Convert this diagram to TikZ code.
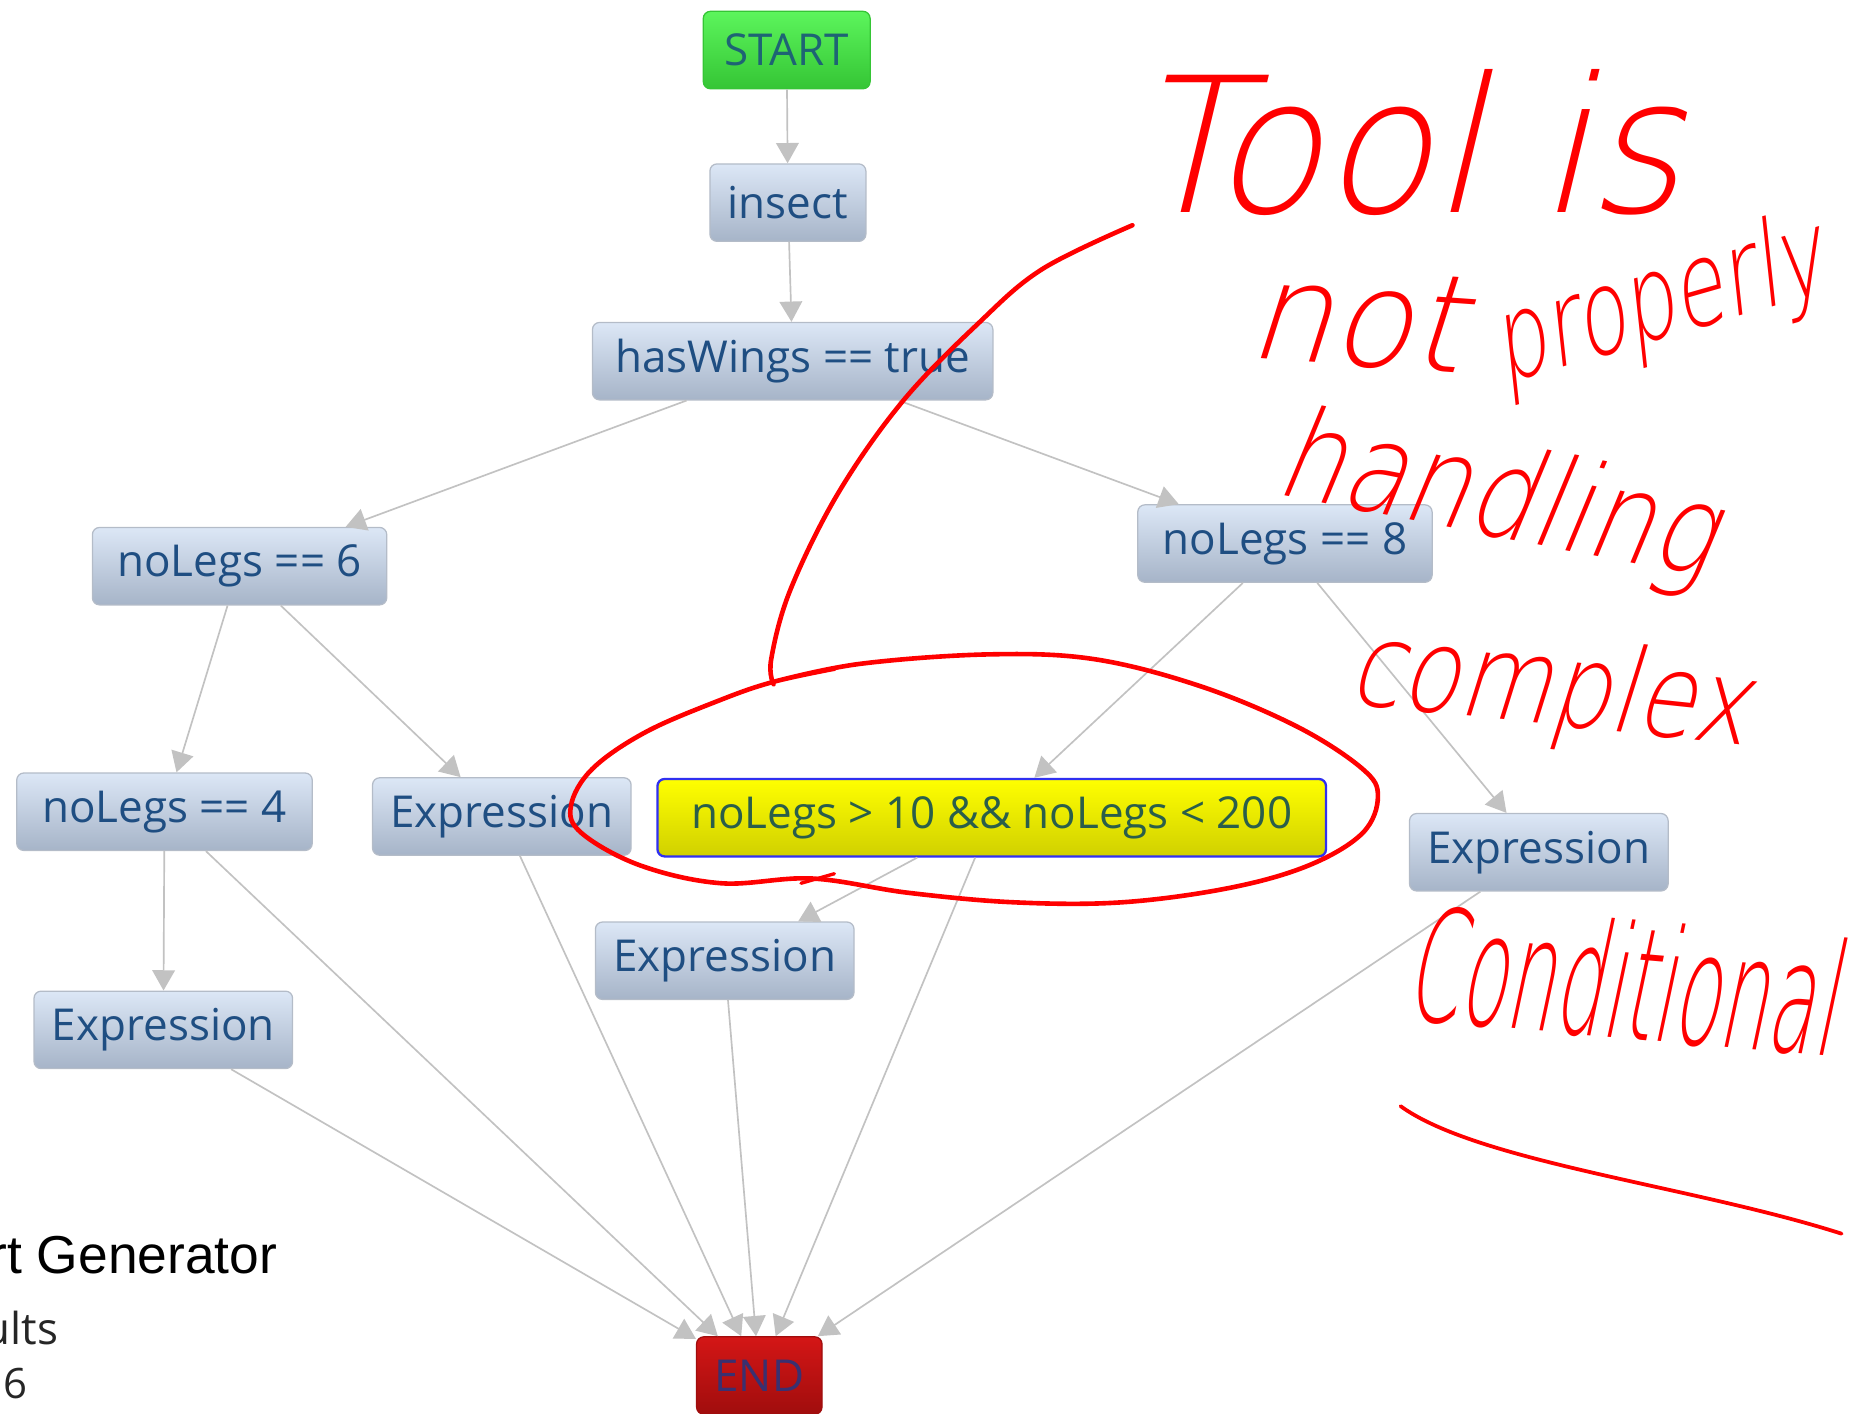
\documentclass[tikz,border=0pt]{standalone}
\usepackage{fontspec}
\setmainfont{Open Sans}
\newfontfamily\captionfont{Liberation Sans}
\newfontfamily\scrawlfont{DejaVu Sans ExtraLight}[FakeSlant=0.25]
\usetikzlibrary{arrows.meta}

\definecolor{edgegray}{HTML}{C2C2C2}
\definecolor{boxtop}{HTML}{DCE7F6}
\definecolor{boxbottom}{HTML}{A6B4C8}
\definecolor{boxline}{HTML}{B4BCC8}
\definecolor{boxtext}{HTML}{1F4E82}
\definecolor{starttop}{HTML}{5CF55C}
\definecolor{startbottom}{HTML}{35C535}
\definecolor{starttext}{HTML}{1E6474}
\definecolor{endtop}{HTML}{D41616}
\definecolor{endbottom}{HTML}{A00D0D}
\definecolor{endtext}{HTML}{3A3070}
\definecolor{hitop}{HTML}{FFFF00}
\definecolor{hibottom}{HTML}{D0D000}
\definecolor{hiline}{HTML}{3030F0}
\definecolor{hitext}{HTML}{2A5E4A}
\definecolor{pen}{HTML}{FF0000}

% handwritten note: width, height, text
\newcommand{\scrawl}[3]{\resizebox{#1}{#2}{\scrawlfont #3}}

\tikzset{
  block/.style={rectangle, rounded corners=0.12cm, draw=boxline, line width=0.6pt,
    top color=boxtop, bottom color=boxbottom, text=boxtext,
    font=\fontsize{21}{25}\selectfont, inner xsep=0.3cm, inner ysep=0pt,
    minimum height=1.3cm},
  startblock/.style={block, draw=startbottom, top color=starttop,
    bottom color=startbottom, text=starttext},
  endblock/.style={block, draw=endbottom, top color=endtop,
    bottom color=endbottom, text=endtext},
  hiblock/.style={block, draw=hiline, line width=1.1pt, top color=hitop,
    bottom color=hibottom, text=hitext},
  flow/.style={draw=edgegray, line width=0.8pt,
    -{Triangle[width=0.38cm,length=0.34cm]}},
  note/.style={text=pen, inner sep=0pt, anchor=base west},
  penline/.style={draw=pen, line width=2.2pt, line cap=round, line join=round},
  sidetext/.style={inner sep=0pt, anchor=base east}
}

\begin{document}
\begin{tikzpicture}[x=0.02cm, y=-0.02cm]
  \useasboundingbox (0,0) rectangle (1568,1186);

  % flow chart
  \node[startblock, minimum width=2.8cm] (start) at (660,42) {START};
  \node[block, minimum width=2.56cm] (insect) at (661,170) {insect};
  \node[block, minimum width=6.72cm] (wings) at (665,303) {hasWings == true};
  \node[block, minimum width=4.94cm] (legs6) at (201,475) {noLegs == 6};
  \node[block, minimum width=4.94cm] (legs8) at (1078,456) {noLegs == 8};
  \node[block, minimum width=4.96cm] (legs4) at (138,681) {noLegs == 4};
  \node[block, minimum width=4.26cm] (exprA) at (421,685) {Expression};
  \node[hiblock, minimum width=11.22cm] (range) at (832,686) {noLegs > 10 \&\& noLegs < 200};
  \node[block, minimum width=4.26cm] (exprB) at (1291,715) {Expression};
  \node[block, minimum width=4.26cm] (exprC) at (608,806) {Expression};
  \node[block, minimum width=4.26cm] (exprD) at (137,864) {Expression};
  \node[endblock, minimum width=2.1cm] (end) at (637,1154) {END};

  \begin{scope}[flow]
    \draw (start) to (insect);
    \draw (insect) to (wings);
    \draw (wings) to (legs6);
    \draw (wings) to (legs8);
    \draw (legs6) to (legs4);
    \draw (legs6) to (exprA);
    \draw (legs8) to (range);
    \draw (legs8) to (exprB);
    \draw (legs4) to (exprD);
    \draw (legs4) to (end);
    \draw (exprA) to (end);
    \draw (range) to (exprC);
    \draw (range) to (end);
    \draw (exprC) to (end);
    \draw (exprD) to (end);
    \draw (exprB) to (end);
  \end{scope}

  % window text cut off at the left
  \node[sidetext, font=\captionfont\fontsize{25.5}{30}\selectfont] (gen) at (233,1068) {rt Generator};
  \node[sidetext, text=black!85, font=\fontsize{21}{25}\selectfont] (res) at (49,1128) {ults};
  \node[sidetext, text=black!85, font=\fontsize{20}{24}\selectfont] (cnt) at (23,1173) {6};

  % red pen markup
  \draw[penline] plot[smooth, tension=0.6] coordinates {(950,189) (874,226) (820,272)
    (757,337) (703,414) (663,495) (647,553) (649,574)};
  \draw[penline] plot[smooth, tension=0.6] coordinates {(649,572) (721,557) (829,549)
    (918,553) (1008,576) (1089,610) (1143,645) (1156,668) (1143,699) (1098,726)
    (1031,745) (941,757) (851,757) (762,749) (681,737) (605,741) (537,726) (488,699)
    (479,676) (497,645) (542,614) (605,587) (649,572) (700,561)};
  \draw[penline, line width=1.6pt] (672,741) -- (700,733);
  \draw[penline, line width=1.8pt] (1175,928) .. controls (1240,975) and (1420,995) .. (1545,1035);

  \node[note] (tool) at (948,178) {\scrawl{9.24cm}{2.4cm}{Tool is}};
  \node[note, rotate=-4] (nott) at (1045,300) {\scrawl{3.6cm}{1.6cm}{not}};
  \node[note, rotate=16] (prop) at (1262,322) {\scrawl{5.7cm}{1.5cm}{properly}};
  \node[note, rotate=-11] (hand) at (1068,414) {\scrawl{7.4cm}{1.6cm}{handling}};
  \node[note, rotate=-6] (cplx) at (1130,590) {\scrawl{6.7cm}{1.5cm}{complex}};
  \node[note, rotate=-5] (cond) at (1178,855) {\scrawl{7.2cm}{2.0cm}{Conditional}};
\end{tikzpicture}
\end{document}
